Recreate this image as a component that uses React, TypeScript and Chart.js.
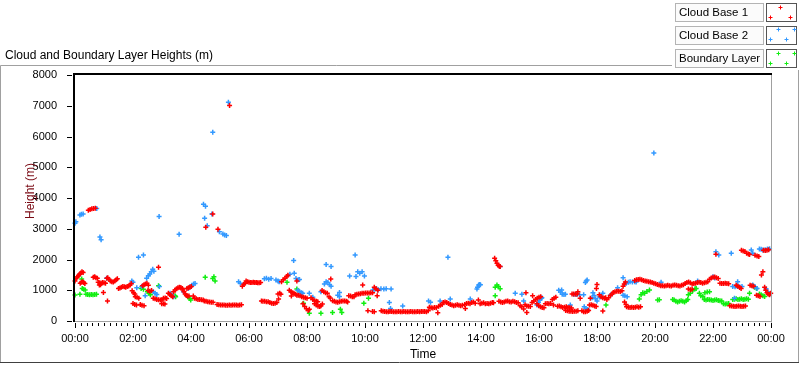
import React, { useEffect, useRef } from "react";
import { Chart, registerables } from "chart.js";

Chart.register(...registerables);

// ---- data (hours since 00:00, height in m) ----
const cloudBase1: [number, number][] = [
  [0.00,1300],[0.04,1380],[0.08,1430],[0.12,1480],[0.16,1520],[0.20,1560],[0.24,1600],[0.28,1580],
  [0.18,1230],[0.22,1260],[0.26,1280],[0.30,1250],[0.34,1220],
  [0.46,3600],[0.52,3630],[0.58,3650],[0.64,3660],[0.70,3670],
  [0.63,1420],[0.68,1440],[0.72,1410],[0.77,1390],
  [0.80,1260],[0.85,1240],[0.90,1230],[0.95,1250],[1.00,1240],[1.05,1230],[0.84,1170],[0.88,1180],
  [1.10,1390],[1.13,1410],[1.17,1360],[1.22,1300],[1.27,1280],[1.32,1270],[1.37,1300],[1.42,1340],[1.46,1370],
  [0.98,930],[1.12,650],
  [1.50,1060],[1.55,1070],[1.60,1100],[1.65,1120],[1.70,1110],[1.75,1100],[1.80,1120],[1.85,1140],[1.90,1170],[1.94,1220],
  [1.97,980],[2.02,920],[2.06,880],[2.08,790],[2.14,770],[2.20,740],
  [2.00,570],[2.06,540],[2.12,520],[2.25,540],[2.31,510],[2.38,500],
  [2.33,1150],[2.38,1180],[2.43,1200],[2.48,1230],[2.53,1160],
  [2.52,990],[2.58,970],[2.64,990],
  [2.70,740],[2.76,720],[2.82,700],[2.88,690],[2.94,680],[3.00,690],
  [2.88,1745],
  [3.05,740],[3.11,750],[3.16,730],[2.99,560],[3.05,560],[3.10,550],
  [3.22,900],[3.27,860],[3.32,820],[3.37,790],
  [3.40,950],[3.45,1010],[3.50,1050],[3.55,1080],[3.60,1095],[3.65,1090],[3.70,1060],
  [3.72,1010],[3.76,950],[3.80,880],[3.84,830],[3.88,810],[3.93,810],
  [3.86,1060],[3.91,1080],[3.96,1100],[4.01,1120],
  [4.08,810],
  [4.12,740],[4.18,720],[4.24,700],[4.30,700],[4.36,690],[4.42,680],
  [4.46,650],[4.52,640],[4.58,630],[4.64,620],[4.70,610],[4.76,610],
  [4.51,3050],[4.75,3480],[4.93,2980],[5.33,7010],
  [4.90,540],[4.96,530],[5.02,520],[5.08,520],[5.14,520],[5.20,515],[5.26,515],[5.32,520],[5.38,515],[5.44,520],
  [5.50,520],[5.56,520],[5.62,515],[5.68,520],[5.74,530],
  [5.77,1130],[5.82,1190],[5.86,1230],
  [5.90,1300],[5.95,1280],[6.00,1260],[6.05,1250],[6.10,1250],[6.15,1260],[6.20,1250],[6.25,1250],[6.30,1240],[6.35,1240],[6.40,1250],
  [6.43,650],[6.48,640],[6.54,640],[6.60,630],[6.66,630],[6.72,600],[6.78,580],[6.84,570],[6.90,580],[6.96,600],
  [7.00,880],[7.06,900],[7.10,870],[7.02,715],
  [7.12,1280],[7.18,1340],[7.24,1390],[7.30,1450],[7.34,1490],
  [7.39,1000],[7.45,950],[7.50,920],[7.55,900],[7.60,870],[7.65,840],[7.46,810],[7.65,1300],
  [7.70,840],[7.76,820],[7.82,790],[7.88,770],[7.94,760],[8.00,740],
  [7.86,560],[7.92,470],[7.98,400],[8.04,340],[8.08,380],
  [8.14,760],[8.20,700],[8.26,660],[8.32,640],[8.37,630],
  [8.26,560],[8.32,520],[8.38,480],[8.44,470],[8.48,500],[8.53,550],
  [8.52,990],[8.58,950],[8.64,920],[8.70,900],
  [8.82,1365],[8.76,790],[8.80,750],
  [8.88,660],[8.94,640],[9.00,620],[9.06,610],[9.12,630],[9.18,640],[9.24,650],[9.30,650],[9.36,640],[9.40,620],
  [9.44,820],[9.50,810],[9.56,790],[9.62,790],
  [9.66,850],[9.72,870],[9.78,880],[9.84,890],[9.90,900],[9.96,900],[10.02,910],[10.08,910],[10.14,910],[10.20,920],[10.26,920],
  [9.92,1170],[10.32,1100],[10.38,1050],[10.44,1000],[10.42,820],
  [10.10,330],[10.26,310],[10.32,300],
  [10.56,330],[10.62,320],[10.68,310],[10.74,300],[10.80,300],[10.86,310],[10.92,310],[10.98,300],[11.04,300],[11.10,300],
  [11.16,310],[11.22,300],[11.28,300],[11.34,310],[11.40,300],[11.46,300],[11.52,300],[11.58,310],[11.64,300],[11.70,300],
  [11.76,300],[11.82,310],[11.88,300],[11.94,310],[12.00,310],[12.06,310],[12.12,300],[12.18,330],
  [12.22,450],[12.28,430],[12.34,420],[12.40,440],[12.46,430],[12.51,270],
  [12.54,480],[12.60,510],[12.66,540],[12.70,600],[12.76,620],[12.82,600],[12.88,570],[12.94,540],
  [13.00,520],[13.06,500],[13.12,510],[13.18,530],[13.24,510],[13.30,500],[13.36,510],[13.46,410],
  [13.44,540],[13.50,570],[13.56,580],[13.62,560],[13.68,600],[13.74,620],[13.80,580],[13.91,680],
  [13.97,560],[14.03,580],[14.09,590],[14.15,560],[14.21,570],[14.27,560],[14.33,580],[14.39,600],[14.43,590],
  [14.47,2040],[14.51,1960],[14.55,1880],[14.59,1810],[14.63,1780],[14.66,1770],
  [14.62,640],[14.68,620],[14.74,600],
  [14.80,620],[14.86,640],[14.92,650],[14.98,630],[15.04,620],[15.10,640],[15.16,630],[15.22,600],[15.28,590],
  [15.35,500],[15.40,460],[15.47,390],[15.58,280],[15.55,920],
  [15.52,530],[15.58,490],[15.64,480],[15.70,470],
  [15.76,600],[15.82,650],[15.88,700],[15.94,740],[16.00,770],[16.06,790],[15.78,820],
  [15.93,560],[15.99,500],[16.05,460],[16.11,440],[16.17,430],
  [16.22,560],[16.28,570],[16.34,560],[16.40,570],
  [16.46,700],[16.52,740],[16.58,770],[16.50,520],
  [16.64,480],[16.70,490],[16.76,460],[16.82,440],[16.88,450],[16.94,460],[17.00,440],[17.06,430],[17.12,420],
  [16.92,340],[16.98,330],[17.04,320],[17.10,320],[17.16,310],[17.22,320],[17.28,320],[17.34,330],
  [17.14,880],[17.20,880],[17.26,870],[17.32,880],[17.34,950],[17.42,740],
  [17.48,330],[17.54,300],[17.60,300],[17.66,320],[17.71,340],[17.77,740],
  [17.74,520],[17.80,530],[17.86,510],[17.92,490],[17.97,470],
  [17.98,1060],[18.00,1190],
  [18.08,850],[18.14,790],[18.20,760],[18.26,740],[18.30,760],[18.20,325],
  [18.34,700],[18.40,760],[18.46,830],[18.52,880],
  [18.56,930],[18.62,950],[18.68,970],[18.74,970],[18.80,960],[18.86,980],
  [18.90,1130],[18.94,1200],[18.98,1270],[18.95,620],[19.00,540],
  [19.02,460],[19.08,450],[19.14,440],[19.20,450],[19.26,440],[19.32,450],[19.38,460],[19.44,450],[19.50,460],
  [19.30,1320],[19.36,1340],[19.42,1350],[19.48,1360],[19.54,1340],[19.60,1320],[19.66,1300],[19.72,1290],[19.78,1280],
  [19.84,1270],[19.90,1250],[19.96,1230],[20.02,1210],[20.08,1190],[20.14,1170],[20.20,1150],[20.26,1150],[20.32,1140],
  [20.38,1150],[20.44,1160],[20.50,1150],[20.56,1140],[20.62,1160],[20.68,1170],[20.74,1160],[20.80,1150],[20.86,1140],
  [20.92,1160],[20.98,1180],[21.04,1220],[21.10,1250],[21.16,1270],[21.22,1240],[21.28,1200],[21.34,1220],[21.40,1230],
  [21.46,1250],[21.52,1260],[21.58,1250],[21.64,1230],[21.70,1240],[21.76,1260],[21.82,1280],[21.88,1360],[21.94,1400],
  [22.00,1420],[22.06,1430],[22.12,1410],[22.18,1380],[22.24,1230],[22.30,1220],[22.36,1220],[22.42,1230],[22.48,1220],[22.54,1210],
  [21.15,1040],[21.22,1020],[21.28,1030],[22.10,2170],
  [22.58,500],[22.64,490],[22.70,480],[22.76,470],[22.82,480],[22.88,490],[22.94,480],[23.00,470],[23.06,480],[23.12,490],
  [22.80,1160],[22.86,1130],[22.92,1090],[22.97,1060],
  [22.98,2300],[23.04,2280],[23.10,2260],[23.16,2200],[23.22,2180],[23.26,2160],
  [23.28,1160],[23.34,1150],[23.40,1130],
  [23.45,2140],[23.52,2110],[23.58,2100],
  [23.50,840],[23.56,820],[23.62,800],[23.67,1500],[23.72,1600],
  [23.78,1100],[23.82,1000],[23.86,920],[23.90,880],[23.95,850],[23.99,900],
  [23.74,2300],[23.80,2290],[23.86,2300],[23.92,2320],
];

const cloudBase2: [number, number][] = [
  [0.00,3180],[0.03,3230],[0.17,3450],[0.22,3470],[0.28,3480],[0.75,3660],[0.86,2730],[0.90,2640],
  [0.17,1520],[1.09,1390],[1.96,1300],[2.00,1260],[2.19,2070],[2.36,2150],[2.13,1085],[2.30,1120],
  [2.47,1390],[2.53,1470],[2.58,1530],[2.63,1600],[2.68,1680],[2.72,1620],
  [2.42,820],[2.70,950],[2.76,900],[2.82,860],[2.91,1120],[2.90,3400],
  [3.28,900],[3.34,840],[3.40,790],[3.59,2820],[3.74,950],
  [3.91,1060],[3.97,1110],[4.03,1160],[4.09,1200],[4.14,1220],
  [4.43,3800],[4.50,3730],[4.47,3340],[4.56,3100],[4.72,3480],[4.75,6135],[4.98,2900],[5.10,2830],[5.16,2800],[5.22,2780],[5.29,7110],
  [5.64,1280],[5.70,1230],
  [6.53,1370],[6.60,1390],[6.68,1360],[6.76,1380],[6.93,1330],[7.00,1300],[7.04,1280],
  [7.41,1520],[7.56,1550],[7.54,1970],[7.62,1380],[7.70,1340],[7.74,1350],
  [7.68,1000],[7.74,960],[7.80,920],[7.85,900],[8.08,900],[8.20,770],[8.48,950],
  [8.66,1840],[8.83,1770],[8.60,1200],[8.66,1280],[8.72,1250],[8.78,1180],[8.83,1130],
  [9.06,840],[9.12,800],[9.12,930],[9.47,1460],[9.66,2150],[9.69,1450],[9.75,1600],[9.82,1550],[9.90,1600],[9.98,1460],
  [10.27,1010],[10.33,1030],[10.40,1050],[10.46,1020],[10.55,1050],[10.65,1040],[10.73,1050],[10.90,1040],[10.84,600],[10.88,410],[11.30,490],
  [12.86,2070],[12.19,650],[12.26,610],[12.59,650],[12.94,715],[13.63,715],
  [13.86,1040],[13.88,1100],[13.92,1170],[13.95,1190],[13.98,1180],
  [14.66,1770],[15.18,900],[15.41,870],[15.47,650],
  [15.93,520],[15.98,600],[16.03,680],[16.08,740],[16.10,760],
  [16.68,1000],[16.74,940],[16.80,870],[16.86,860],[16.91,870],[16.78,1010],
  [17.08,520],[17.20,860],[17.30,860],[17.40,850],[17.54,850],
  [17.60,1250],[17.63,1300],[17.66,1330],
  [17.56,460],[17.62,400],[17.68,370],[17.83,760],
  [17.86,920],[17.90,830],[17.95,720],[18.00,650],[18.08,780],[18.14,790],[18.20,900],[18.48,850],[18.71,1085],[18.90,1410],
  [19.00,1220],[19.08,1260],[19.14,1280],[19.22,1270],[19.30,1280],[19.35,1270],
  [18.90,840],[18.96,820],[19.04,790],
  [19.96,5460],[20.21,1260],[21.47,1300],[22.00,1440],[22.06,1400],[22.10,2250],[22.20,2150],[22.63,2200],
  [22.68,1120],[22.76,1110],[22.84,1120],[22.92,1110],[23.00,1120],[22.85,1280],[22.74,740],
  [23.32,2310],[23.37,2200],[23.37,1170],[23.45,1110],[23.52,1060],
  [23.60,2340],[23.66,2330],[23.72,2310],[23.80,2320],[23.88,2340],[23.95,2350],
  [23.83,1050],[23.89,950],[23.95,860],
];

const boundaryLayer: [number, number][] = [
  [0.00,845],[0.17,870],[0.23,1365],[0.25,1060],[0.30,1030],[0.35,1010],
  [0.38,870],[0.44,860],[0.50,850],[0.56,860],[0.62,850],[0.68,860],[0.74,870],
  [2.28,1060],[2.36,1030],[2.50,950],[2.55,900],[2.60,850],[2.88,1150],[3.45,820],[3.47,790],
  [3.90,790],[3.95,730],[3.99,680],[4.49,1420],[4.75,1380],[4.79,1440],[4.83,1300],
  [7.31,1260],[7.65,1040],[7.88,575],[8.08,250],[8.48,250],[8.88,280],[9.15,380],[9.20,280],[9.96,575],[10.12,740],
  [14.49,1100],[14.55,1170],[14.60,1120],[14.66,1050],[14.49,820],
  [18.31,520],[19.46,715],[19.52,850],[19.58,920],[19.64,900],[19.72,960],[19.81,1010],[20.09,680],[20.15,690],
  [20.61,700],[20.66,680],[20.72,640],[20.78,620],[20.84,640],[20.90,660],[20.96,640],[21.02,620],[21.08,660],[21.13,700],
  [21.15,850],[21.22,900],[21.30,980],[21.38,1050],[21.42,1060],
  [21.53,900],[21.58,820],[21.65,800],[21.72,920],[21.80,940],[21.88,950],
  [21.70,700],[21.76,680],[21.82,700],[21.88,690],[21.94,680],[22.00,670],[22.06,680],[22.12,690],[22.18,670],[22.24,660],[22.30,650],
  [22.36,560],[22.42,550],[22.48,560],[22.54,570],
  [22.68,700],[22.74,710],[22.80,720],[22.86,700],[22.92,710],[22.98,720],[23.04,700],[23.10,710],[23.16,720],[23.22,710],[23.26,900],
  [23.37,1150],[23.43,1100],[23.50,1060],[23.60,880],[23.66,850],[23.72,820],[23.78,800],
];

const seriesNames = ["Cloud Base 1", "Cloud Base 2", "Boundary Layer"];
const seriesColors = ["#ff0000", "#3399ff", "#11ee11"];
const xTickHours = [0, 2, 4, 6, 8, 10, 12, 14, 16, 18, 20, 22, 24];
const xTickLabels = ["00:00", "02:00", "04:00", "06:00", "08:00", "10:00", "12:00", "14:00", "16:00", "18:00", "20:00", "22:00", "00:00"];
const yTickValues = [0, 1000, 2000, 3000, 4000, 5000, 6000, 7000, 8000];
const chartTitle = "Cloud and Boundary Layer Heights (m)";
const yTitle = "Height (m)";
const xTitle = "Time";

const FONT = '"Segoe UI", "Liberation Sans", Arial, sans-serif';

const decorPlugin = {
  id: "decor",
  afterDraw(chart: any) {
    const ctx = chart.ctx as CanvasRenderingContext2D;
    const { left, right, top, bottom } = chart.chartArea;
    const xs = chart.scales.x;
    const ys = chart.scales.y;
    ctx.save();
    // outer panel
    ctx.strokeStyle = "#a0a0a0";
    ctx.lineWidth = 1;
    ctx.beginPath();
    ctx.moveTo(0.5, 362.5);
    ctx.lineTo(0.5, 65.5);
    ctx.lineTo(672, 65.5);
    ctx.moveTo(798.5, 70);
    ctx.lineTo(798.5, 362.5);
    ctx.stroke();
    ctx.strokeStyle = "#404040";
    ctx.beginPath();
    ctx.moveTo(0, 362.5);
    ctx.lineTo(799, 362.5);
    ctx.stroke();

    // plot frame
    ctx.strokeStyle = "#a0a0a0";
    ctx.beginPath();
    ctx.moveTo(right + 0.5, top);
    ctx.lineTo(right + 0.5, bottom + 1.5);
    ctx.moveTo(left, bottom + 0.5);
    ctx.lineTo(right + 1, bottom + 0.5);
    ctx.stroke();
    ctx.strokeStyle = "#000";
    ctx.lineWidth = 2;
    ctx.beginPath();
    ctx.moveTo(left - 1, bottom + 1);
    ctx.lineTo(left - 1, top - 1);
    ctx.lineTo(right + 1, top - 1);
    ctx.stroke();

    // ticks
    ctx.lineWidth = 1;
    ctx.strokeStyle = "#000";
    ctx.beginPath();
    yTickValues.forEach((v) => {
      const y = Math.round(ys.getPixelForValue(v)) + 0.5;
      ctx.moveTo(67, y);
      ctx.lineTo(72, y);
    });
    for (let m = 0; m <= 24 * 5; m++) {
      const x = Math.round(xs.getPixelForValue(m / 5)) + 0.5;
      const major = m % 10 === 0;
      ctx.moveTo(x, bottom + 2);
      ctx.lineTo(x, bottom + (major ? 7 : 5));
    }
    ctx.stroke();

    // titles
    ctx.fillStyle = "#000";
    ctx.font = `12px ${FONT}`;
    ctx.textAlign = "left";
    ctx.textBaseline = "alphabetic";
    ctx.fillText(chartTitle, 5, 59);
    ctx.textAlign = "center";
    ctx.fillText(xTitle, (left + right) / 2, 358);
    ctx.save();
    ctx.translate(34, 191);
    ctx.rotate(-Math.PI / 2);
    ctx.fillStyle = "#7a0a14";
    ctx.fillText(yTitle, 0, 0);
    ctx.restore();

    // legend
    const boxTops = [3, 26, 49];
    const crossSets = [
      [[12, 4], [2, 14], [22, 14]],
      [[10, 3], [26, 3], [2, 13], [18, 13]],
      [[10, 4], [26, 4], [2, 14], [18, 14]],
    ];
    seriesNames.forEach((name, i) => {
      const y0 = boxTops[i];
      ctx.fillStyle = "#fbfbfb";
      ctx.fillRect(675, y0, 89, 19);
      ctx.strokeStyle = "#b4b4b4";
      ctx.lineWidth = 1;
      ctx.strokeRect(675.5, y0 + 0.5, 88, 18);
      ctx.fillStyle = "#ffffff";
      ctx.fillRect(766, y0, 31, 19);
      ctx.strokeStyle = "#555";
      ctx.strokeRect(766.5, y0 + 0.5, 30, 18);
      ctx.fillStyle = "#000";
      ctx.textAlign = "left";
      ctx.textBaseline = "middle";
      ctx.font = `11.5px ${FONT}`;
      ctx.fillText(name, 679, y0 + 10);
      ctx.strokeStyle = seriesColors[i];
      ctx.beginPath();
      crossSets[i].forEach(([dx, dy]) => {
        const cx = 768 + dx + 0.5;
        const cy = y0 + dy + 0.5;
        ctx.moveTo(cx - 2, cy);
        ctx.lineTo(cx + 2, cy);
        ctx.moveTo(cx, cy - 2);
        ctx.lineTo(cx, cy + 2);
      });
      ctx.stroke();
    });
    ctx.restore();
  },
};

export default function App() {
  const ref = useRef<HTMLCanvasElement | null>(null);
  useEffect(() => {
    document.body.style.margin = "0";
    const series = [cloudBase1, cloudBase2, boundaryLayer];
    const chart = new Chart(ref.current as HTMLCanvasElement, {
      type: "scatter",
      data: {
        datasets: series.map((s, i) => ({
          label: seriesNames[i],
          data: s.map(([x, y]) => ({ x, y })),
          pointStyle: "cross",
          pointRadius: 2.5,
          pointBorderWidth: 1.5,
          borderColor: seriesColors[i],
          backgroundColor: seriesColors[i],
          showLine: false,
          clip: 4,
        })),
      },
      options: {
        responsive: false,
        animation: false,
        devicePixelRatio: 1,
        events: [],
        layout: { padding: { top: 75, right: 29, bottom: 0, left: 0 } },
        plugins: { legend: { display: false }, tooltip: { enabled: false }, title: { display: false } },
        scales: {
          x: {
            type: "linear",
            min: 0,
            max: 24,
            afterBuildTicks: (s: any) => {
              s.ticks = xTickHours.map((v) => ({ value: v }));
            },
            afterFit: (s: any) => {
              s.height = 44;
            },
            grid: { display: false },
            border: { display: false },
            ticks: {
              autoSkip: false,
              maxRotation: 0,
              padding: 3,
              color: "#000",
              font: { family: FONT, size: 11 },
              callback: (_v: any, i: number) => xTickLabels[i],
            },
          },
          y: {
            type: "linear",
            min: 0,
            max: 8000,
            afterBuildTicks: (s: any) => {
              s.ticks = yTickValues.map((v) => ({ value: v }));
            },
            afterFit: (s: any) => {
              s.width = 75;
            },
            grid: { display: false },
            border: { display: false },
            ticks: {
              padding: 10,
              color: "#000",
              font: { family: FONT, size: 11 },
              callback: (v: any) => String(v),
            },
          },
        },
      },
      plugins: [decorPlugin],
    } as any);
    return () => chart.destroy();
  }, []);
  return (
    <div style={{ position: "absolute", left: 0, top: 0, width: 800, height: 365, background: "#fff" }}>
      <canvas ref={ref} width={800} height={365} />
    </div>
  );
}
